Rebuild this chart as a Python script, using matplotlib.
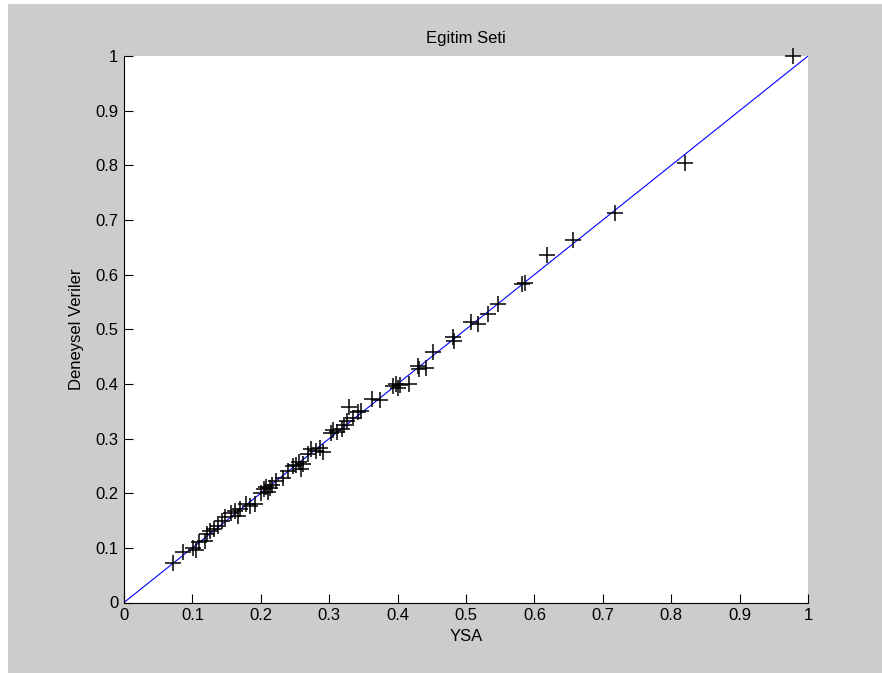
import numpy as np
import matplotlib.pyplot as plt
from matplotlib.patches import Rectangle

ysa = [0.072, 0.086, 0.101, 0.105, 0.110, 0.118, 0.121, 0.126, 0.131, 0.138,
       0.143, 0.148, 0.157, 0.162, 0.167, 0.170, 0.179, 0.184, 0.192, 0.200,
       0.204, 0.207, 0.210, 0.213, 0.217, 0.222, 0.232, 0.240, 0.247, 0.252,
       0.256, 0.259, 0.262, 0.269, 0.274, 0.281, 0.286, 0.291, 0.303, 0.306,
       0.311, 0.318, 0.321, 0.326, 0.329, 0.335, 0.342, 0.347, 0.362, 0.374,
       0.394, 0.397, 0.400, 0.403, 0.417, 0.430, 0.432, 0.441, 0.452, 0.481,
       0.482, 0.508, 0.518, 0.532, 0.547, 0.582, 0.586, 0.618, 0.657, 0.718,
       0.820, 0.978]
deneysel = [0.072, 0.092, 0.100, 0.096, 0.110, 0.113, 0.125, 0.130, 0.134, 0.140,
            0.150, 0.156, 0.164, 0.167, 0.158, 0.172, 0.180, 0.176, 0.180, 0.200,
            0.208, 0.212, 0.203, 0.210, 0.215, 0.222, 0.228, 0.240, 0.250, 0.252,
            0.258, 0.244, 0.254, 0.272, 0.280, 0.278, 0.282, 0.276, 0.310, 0.315,
            0.312, 0.318, 0.325, 0.333, 0.357, 0.338, 0.348, 0.350, 0.372, 0.370,
            0.396, 0.400, 0.393, 0.398, 0.400, 0.433, 0.428, 0.430, 0.458, 0.486,
            0.478, 0.514, 0.510, 0.527, 0.546, 0.582, 0.585, 0.636, 0.664, 0.712,
            0.805, 1.000]

xticks = np.arange(0, 1.01, 0.1)
tick_labels = ["0", "0.1", "0.2", "0.3", "0.4", "0.5", "0.6", "0.7", "0.8", "0.9", "1"]

plt.rcParams['font.family'] = ['Liberation Sans Narrow', 'Liberation Sans', 'DejaVu Sans']

fig = plt.figure(figsize=(8.82, 6.73), dpi=100, facecolor="white")
# grey MATLAB-style background with a thin white border at top/left
fig.patches.append(Rectangle((8 / 882, 0), 1, 1 - 4 / 673, transform=fig.transFigure,
                             facecolor="#cccccc", edgecolor="none", zorder=-10))

ax = fig.add_axes([124 / 882, 1 - 602.5 / 673, 684 / 882, 546.5 / 673])
ax.set_facecolor("white")

ax.plot([0, 1], [0, 1], color="blue", lw=0.8)
ax.plot(ysa, deneysel, "+", color="black", markersize=11, mew=1.1, clip_on=False)

ax.set_xlim(0, 1)
ax.set_ylim(0, 1)
ax.set_xticks(xticks)
ax.set_xticklabels(tick_labels)
ax.set_yticks(xticks)
ax.set_yticklabels(tick_labels)
ax.tick_params(direction="in", length=6.5, width=0.8, labelsize=12, pad=4)
ax.spines["top"].set_visible(False)
ax.spines["right"].set_visible(False)

ax.set_title("Egitim Seti", fontsize=12, pad=9)
ax.set_xlabel("YSA", fontsize=12, labelpad=4)
ax.set_ylabel("Deneysel Veriler", fontsize=12, labelpad=8)

fig.savefig("out.png", dpi=100, facecolor=fig.get_facecolor())
